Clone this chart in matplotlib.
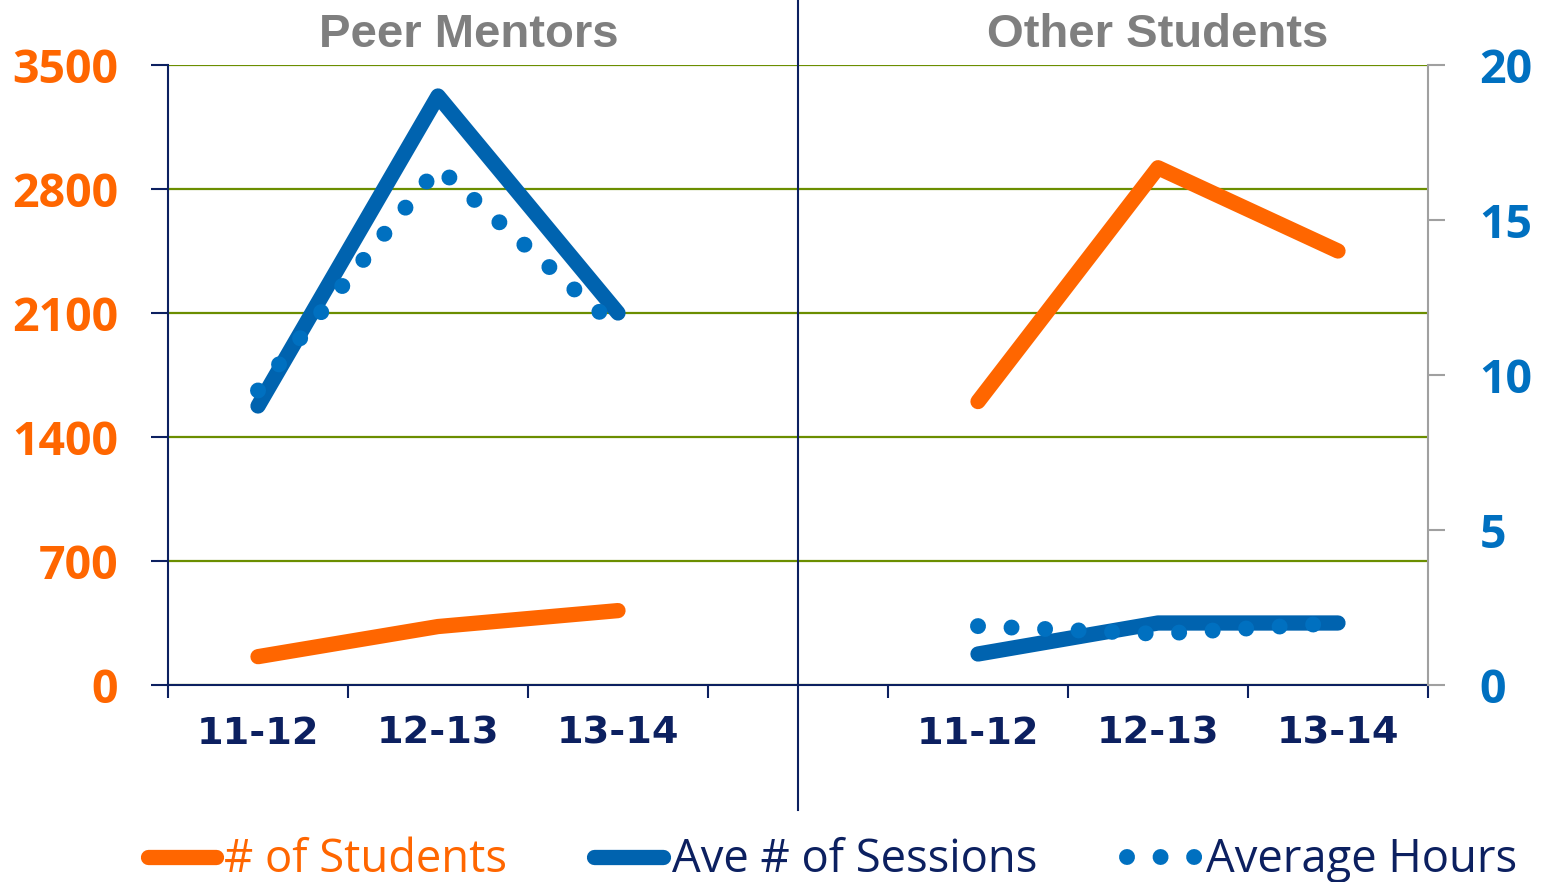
import matplotlib
matplotlib.use("Agg")
import matplotlib.pyplot as plt
import numpy as np
from matplotlib.lines import Line2D

# ---- data ----
categories = ["11-12", "12-13", "13-14"]
panels = ["Peer Mentors", "Other Students"]
panel_offsets = [0, 4]          # slot offset of each panel on the shared category axis
n_slots = 7
students_peer = [160, 330, 420]
students_other = [1600, 2920, 2450]
sessions_peer = [9, 19, 12]
sessions_other = [1, 2, 2]
hours_peer = [9.5, 16.7, 11.5]
hours_other = [1.9, 1.65, 2.0]
left_ticks = [0, 700, 1400, 2100, 2800, 3500]
right_ticks = [0, 5, 10, 15, 20]
series_names = ["# of Students", "Ave # of Sessions", "Average Hours"]

# ---- style ----
ORANGE = "#FF6600"
BLUE = "#0063AF"
DOTBLUE = "#0070C0"
NAVY = "#0C2060"
GRID = "#6B8E00"
GRAY = "#A0A0A0"
TITLE = "#7F7F7F"

W, H, DPI = 1541, 882, 100
fig = plt.figure(figsize=(W / DPI, H / DPI), dpi=DPI)
ax = fig.add_axes([168 / W, 1 - 685 / H, (1428 - 168) / W, 620 / H])
ax2 = ax.twinx()

students = [students_peer, students_other]
sessions = [sessions_peer, sessions_other]
hours = [hours_peer, hours_other]

xpos_all = []
for p, off in enumerate(panel_offsets):
    x = np.arange(len(categories)) + 0.5 + off
    xpos_all.extend(x)
    ax.plot(x, students[p], color=ORANGE, lw=11, solid_capstyle="round",
            solid_joinstyle="round", zorder=3)
    ax2.plot(x, sessions[p], color=BLUE, lw=11, solid_capstyle="round",
             solid_joinstyle="round", zorder=3)
    ax2.plot(x, hours[p], color=DOTBLUE, lw=11.5, linestyle=(0, (0.001, 2.1)),
             dash_capstyle="round", zorder=4)

ax.set_xlim(0, n_slots)
ax.set_ylim(0, 3500)
ax2.set_ylim(0, 20)
ax.set_yticks(left_ticks)
ax2.set_yticks(right_ticks)

ax.set_xticks(np.arange(0, n_slots + 1))
ax.set_xticklabels([])
ax.set_xticks(xpos_all, minor=True)
ax.set_xticklabels(categories * len(panels), minor=True)
ax.tick_params(axis="x", which="major", length=9, width=1.5, color=NAVY)
ax.tick_params(axis="x", which="minor", length=0, pad=22, labelcolor=NAVY)
for lab in ax.get_xticklabels(minor=True):
    lab.set_fontfamily("DejaVu Sans")
    lab.set_fontweight("bold")
    lab.set_fontsize(27.5)

ax.tick_params(axis="y", length=12, width=1.5, color=NAVY, pad=24,
               labelcolor=ORANGE)
for lab in ax.get_yticklabels():
    lab.set_fontfamily("Open Sans")
    lab.set_fontweight("bold")
    lab.set_fontsize(33.5)

ax2.tick_params(axis="y", length=12, width=1.5, color=GRAY, pad=25,
                labelcolor=DOTBLUE)
for lab in ax2.get_yticklabels():
    lab.set_fontfamily("Open Sans")
    lab.set_fontweight("bold")
    lab.set_fontsize(33.5)

for s in ["top", "right"]:
    ax.spines[s].set_visible(False)
for s in ["top", "left", "bottom"]:
    ax2.spines[s].set_visible(False)
ax.spines["left"].set_color(NAVY)
ax.spines["left"].set_linewidth(1.5)
ax.spines["bottom"].set_color(NAVY)
ax.spines["bottom"].set_linewidth(1.5)
ax2.spines["right"].set_color(GRAY)
ax2.spines["right"].set_linewidth(1.5)

ax.yaxis.grid(True, color=GRID, lw=1.6)
ax.set_axisbelow(True)

# divider between panels
ax.plot([3.5, 3.5], [-0.2016, 1.11], transform=ax.get_xaxis_transform(),
        clip_on=False, color=NAVY, lw=1.5, zorder=5)

# panel titles
title_x = [1.67, 5.5]
for t, tx in zip(panels, title_x):
    ax.text(tx, 1.029, t, transform=ax.get_xaxis_transform(), ha="center",
            va="baseline", fontsize=34, fontweight="bold",
            fontfamily="Liberation Sans", color=TITLE)

# ---- legend (manual, figure coords) ----
ly = 1 - 857 / H
fig.add_artist(Line2D([148 / W, 216 / W], [ly, ly], lw=11, color=ORANGE,
                      solid_capstyle="round"))
fig.add_artist(Line2D([594 / W, 663 / W], [ly, ly], lw=11, color=BLUE,
                      solid_capstyle="round"))
fig.add_artist(Line2D([1127 / W, 1196 / W], [ly, ly], lw=11.5, color=DOTBLUE,
                      linestyle=(0, (0.001, 2.1)), dash_capstyle="round"))
tb = 1 - 872 / H
leg_text_x = [224, 672, 1206]
leg_colors = [ORANGE, NAVY, NAVY]
for name, tx, c in zip(series_names, leg_text_x, leg_colors):
    fig.text(tx / W, tb, name, ha="left", va="baseline", fontsize=32.7,
             fontfamily="Open Sans", color=c)

fig.savefig("out.png", dpi=DPI)
